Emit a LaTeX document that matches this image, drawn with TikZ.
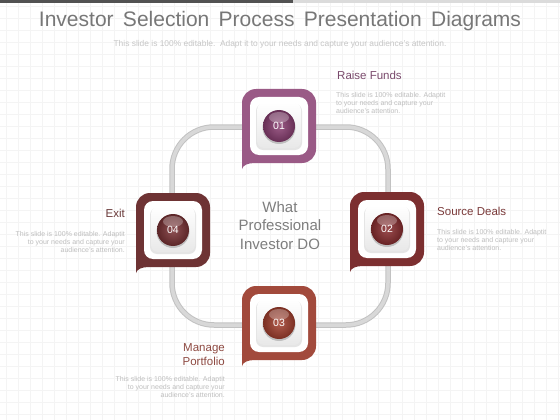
\documentclass[tikz,border=0pt]{standalone}
\usepackage{fontspec}
\setmainfont{Liberation Sans}
\usetikzlibrary{shadings}
\definecolor{titlegray}{HTML}{777777}
\definecolor{subgray}{HTML}{C6C6C6}
\definecolor{descgray}{HTML}{BEBEBE}
\definecolor{centergray}{HTML}{7E7E7E}
\definecolor{gridgray}{HTML}{F4F4F4}
\definecolor{loopdark}{HTML}{C2C2C2}
\definecolor{looplight}{HTML}{D8D8D8}
\definecolor{colA}{HTML}{9A5A86}
\definecolor{ballA}{HTML}{8A3F72}
\definecolor{labA}{HTML}{7A4A6C}
\definecolor{colB}{HTML}{7C2F30}
\definecolor{ballB}{HTML}{8A2E30}
\definecolor{labB}{HTML}{7A3A3A}
\definecolor{colC}{HTML}{A24A3C}
\definecolor{ballC}{HTML}{A4402F}
\definecolor{labC}{HTML}{8E4A42}
\definecolor{colD}{HTML}{6E3334}
\definecolor{ballD}{HTML}{7A3235}
\definecolor{labD}{HTML}{6A3A3A}
\tikzset{
  looplineout/.style={draw=loopdark, line width=5.5pt, rounded corners=42pt},
  looplinein/.style={draw=looplight, line width=3.5pt, rounded corners=42pt},
  ballnode/.style={circle, minimum size=32pt, inner sep=0pt, text=white, font=\fontsize{10.5}{10.5}\selectfont},
  heading/.style={font=\fontsize{11.5}{14}\selectfont, inner sep=0pt},
  desc/.style={font=\fontsize{7}{8}\selectfont, text=descgray, inner sep=0pt},
  centertext/.style={font=\fontsize{15}{18.5}\selectfont, text=centergray, align=center, inner sep=0pt},
}
\newcommand{\stepbox}[6]{%
  \begin{scope}[shift={(#2,#3)}]
    \fill[#4] (-37,43) -- (-37,-23) arc[start angle=180,end angle=270,radius=14]
      -- (23,-37) arc[start angle=270,end angle=360,radius=14]
      -- (37,23) arc[start angle=0,end angle=90,radius=14]
      -- (-24,37) .. controls (-31,37) and (-36,39) .. (-37,43) -- cycle;
    \fill[white, rounded corners=9pt] (-29,-29) rectangle (29,29);
    \fill[black!10, rounded corners=7pt] (-23,-22) rectangle (23,24);
    \shade[top color=white, bottom color=black!9, rounded corners=7pt] (-22,-23) rectangle (22,22);
    \fill[black!25] (0,1.5) circle[radius=16.5];
    \shade[inner color=#5!85!white, outer color=#5!75!black] (0,0) circle[radius=16];
    \fill[white, opacity=0.28] (0,-8.5) ellipse[x radius=10, y radius=5.5];
    \node[ballnode] (#1) at (0,0) {#6};
  \end{scope}}
\begin{document}
\begin{tikzpicture}[x=1pt, y=-1pt]
  \useasboundingbox (0,0) rectangle (560,420);
  \fill[white] (0,0) rectangle (560,420);
  \foreach \gx in {6,18,...,558} \draw[gridgray, line width=0.4pt] (\gx,0) -- (\gx,420);
  \foreach \gy in {6,18,...,418} \draw[gridgray, line width=0.4pt] (0,\gy) -- (560,\gy);
  \fill[black!68] (0,0) rectangle (293,3);
  \fill[black!14] (293,0) rectangle (560,3);
  \node[font=\fontsize{21}{24}\selectfont, text=titlegray, anchor=base, inner sep=0pt] (title) at (280,27) {Investor\ \,Selection\ \,Process\ \,Presentation\ \,Diagrams};
  \node[font=\fontsize{8.4}{9}\selectfont, text=subgray, anchor=base, inner sep=0pt] (sub) at (280,47) {This slide is 100\% editable.\ \ Adapt it to your needs and capture your audience's attention.};
  % loop coordinates
  \coordinate (c1) at (279,127);
  \coordinate (c2) at (388,228);
  \coordinate (c3) at (279,325);
  \coordinate (c4) at (172,230);
  \draw[looplineout] (c4) |- (c1) -| (c2) |- (c3) -| (c4) -- cycle;
  \draw[looplinein] (c4) |- (c1) -| (c2) |- (c3) -| (c4) -- cycle;
  % boxes
  \stepbox{n1}{279}{126}{colA}{ballA}{01}
  \stepbox{n2}{387}{229}{colB}{ballB}{02}
  \stepbox{n3}{279}{323}{colC}{ballC}{03}
  \stepbox{n4}{173}{230}{colD}{ballD}{04}
  % center
  \node[centertext, anchor=north] (ctext) at (280,201) {What\\Professional\\Investor DO};
  % labels
  \node[heading, text=labA, anchor=base west] (h1) at (337,80) {Raise Funds};
  \node[desc, anchor=north west, align=left] (d1) at (336,92) {This slide is 100\% editable. Adaptit\\to your needs and capture your\\audience's attention.};
  \node[heading, text=labB, anchor=base west] (h2) at (437,215) {Source Deals};
  \node[desc, anchor=north west, align=left] (d2) at (437,229) {This slide is 100\% editable. Adaptit\\to your needs and capture your\\audience's attention.};
  \node[heading, text=labD, anchor=base east] (h4) at (125,217) {Exit};
  \node[desc, anchor=north east, align=right] (d4) at (125,231) {This slide is 100\% editable. Adaptit\\to your needs and capture your\\audience's attention.};
  \node[heading, text=labC, anchor=north east, align=right, font=\fontsize{11.5}{14.5}\selectfont] (h3) at (225,343) {Manage\\Portfolio};
  \node[desc, anchor=north east, align=right] (d3) at (225,376) {This slide is 100\% editable. Adaptit\\to your needs and capture your\\audience's attention.};
\end{tikzpicture}
\end{document}
